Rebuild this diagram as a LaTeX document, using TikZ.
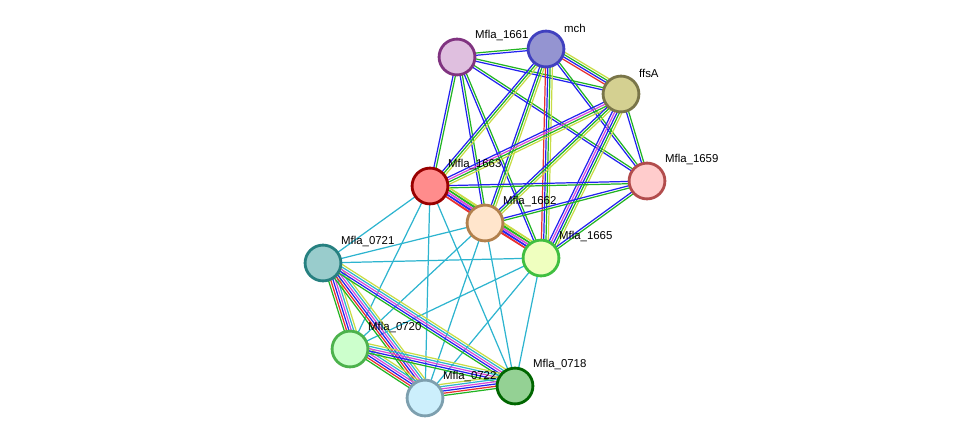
\documentclass[tikz,border=0pt]{standalone}
\usepackage{fontspec}
\setmainfont{Liberation Sans}
\usetikzlibrary{calc}

\definecolor{cdb}{HTML}{2DB4CF}
\definecolor{cnb}{HTML}{22B422}
\definecolor{cco}{HTML}{2222F0}
\definecolor{ctm}{HTML}{C8DC44}
\definecolor{cex}{HTML}{D84AD8}
\definecolor{cfu}{HTML}{E83030}

\tikzset{
  prot/.style={circle, draw, line width=1.6pt, minimum size=20.4pt, inner sep=0pt},
  lbl/.style={anchor=south west, inner sep=1pt, font=\fontsize{6.5}{7}\selectfont},
  link/.style={line width=0.7pt}
}
% bundle of coloured lines, side by side
\newcommand{\bundle}[3]{%
  \foreach \c [count=\i] in {#3} {
    \pgfmathsetmacro{\off}{(\i-1)*1.3}
    \draw[link, \c] ($(#1)!\off pt!90:(#2)$) -- ($(#2)!\off pt!-90:(#1)$);
  }%
}

\begin{document}
\begin{tikzpicture}[x=0.02cm, y=-0.02cm]
  \useasboundingbox (0,0) rectangle (975,444);

  \coordinate (n1661) at (457,57);
  \coordinate (nmch) at (546,49);
  \coordinate (nffs) at (621,94);
  \coordinate (n1659) at (647,181);
  \coordinate (n1663) at (430,186);
  \coordinate (n1662) at (485,223);
  \coordinate (n1665) at (541,258);
  \coordinate (n0721) at (323,263);
  \coordinate (n0720) at (350,349);
  \coordinate (n0722) at (425,398);
  \coordinate (n0718) at (515,386);

  % upper cluster
  \bundle{n1661}{nmch}{cco,cnb}
  \bundle{n1661}{nffs}{cco,cnb}
  \bundle{n1661}{n1659}{cco,cnb}
  \bundle{n1661}{n1663}{cco,cnb}
  \bundle{n1661}{n1662}{cco,cnb}
  \bundle{n1661}{n1665}{cco,cnb}
  \bundle{nmch}{nffs}{cfu,cco,cnb,ctm}
  \bundle{nmch}{n1659}{cco,cnb}
  \bundle{nmch}{n1663}{cco,cnb,ctm}
  \bundle{nmch}{n1662}{cco,cnb,ctm}
  \bundle{nmch}{n1665}{cfu,cco,cnb,ctm}
  \bundle{nffs}{n1659}{cco,cnb}
  \bundle{nffs}{n1663}{cco,cex,cnb,ctm}
  \bundle{nffs}{n1662}{cco,cnb,ctm}
  \bundle{nffs}{n1665}{cco,cex,cco,cnb,ctm}
  \bundle{n1659}{n1663}{cco,cnb}
  \bundle{n1659}{n1662}{cco,cnb}
  \bundle{n1659}{n1665}{cco,cnb}
  \bundle{n1663}{n1662}{cfu,cco,cex,cnb,ctm}
  \bundle{n1663}{n1665}{cfu,cco,cex,cnb,ctm}
  \bundle{n1662}{n1665}{cfu,cco,cex,cnb,ctm}

  % links to lower cluster
  \foreach \a in {n0721,n0720,n0722,n0718}
    \foreach \b in {n1663,n1662,n1665}
      \draw[link, cdb] (\a) -- (\b);

  % lower cluster
  \bundle{n0721}{n0720}{cnb,cfu,cco,cex,cdb,ctm}
  \bundle{n0721}{n0722}{cnb,cfu,cco,cex,cdb,ctm}
  \bundle{n0721}{n0718}{cnb,cco,cex,cdb,ctm}
  \bundle{n0720}{n0722}{cnb,cfu,cco,cex,cdb,ctm}
  \bundle{n0720}{n0718}{cnb,cco,cex,cdb,ctm}
  \bundle{n0722}{n0718}{cnb,cfu,cco,cex,cdb,ctm}

  % proteins
  \node[prot, fill=violet!25, draw=violet!60!gray] (p1661) at (n1661) {};
  \node[prot, fill=blue!40!gray!60, draw=blue!50!gray] (pmch) at (nmch) {};
  \node[prot, fill=yellow!45!gray!70, draw=yellow!40!black] (pffs) at (nffs) {};
  \node[prot, fill=red!20, draw=red!40!gray] (p1659) at (n1659) {};
  \node[prot, fill=red!45, draw=red!60!black] (p1663) at (n1663) {};
  \node[prot, fill=orange!20, draw=orange!40!gray] (p1662) at (n1662) {};
  \node[prot, fill=lime!25, draw=green!50!gray] (p1665) at (n1665) {};
  \node[prot, fill=teal!40, draw=teal!70!gray] (p0721) at (n0721) {};
  \node[prot, fill=green!20, draw=green!40!gray] (p0720) at (n0720) {};
  \node[prot, fill=cyan!20, draw=cyan!30!gray] (p0722) at (n0722) {};
  \node[prot, fill=green!40!gray!60, draw=green!40!black] (p0718) at (n0718) {};

  % labels
  \node[lbl] at ($(n1661)+(16,-14)$) {Mfla\_1661};
  \node[lbl] at ($(nmch)+(16,-14)$) {mch};
  \node[lbl] at ($(nffs)+(16,-14)$) {ffsA};
  \node[lbl] at ($(n1659)+(16,-14)$) {Mfla\_1659};
  \node[lbl] at ($(n1663)+(16,-14)$) {Mfla\_1663};
  \node[lbl] at ($(n1662)+(16,-14)$) {Mfla\_1662};
  \node[lbl] at ($(n1665)+(16,-14)$) {Mfla\_1665};
  \node[lbl] at ($(n0721)+(16,-14)$) {Mfla\_0721};
  \node[lbl] at ($(n0720)+(16,-14)$) {Mfla\_0720};
  \node[lbl] at ($(n0722)+(16,-14)$) {Mfla\_0722};
  \node[lbl] at ($(n0718)+(16,-14)$) {Mfla\_0718};
\end{tikzpicture}
\end{document}
